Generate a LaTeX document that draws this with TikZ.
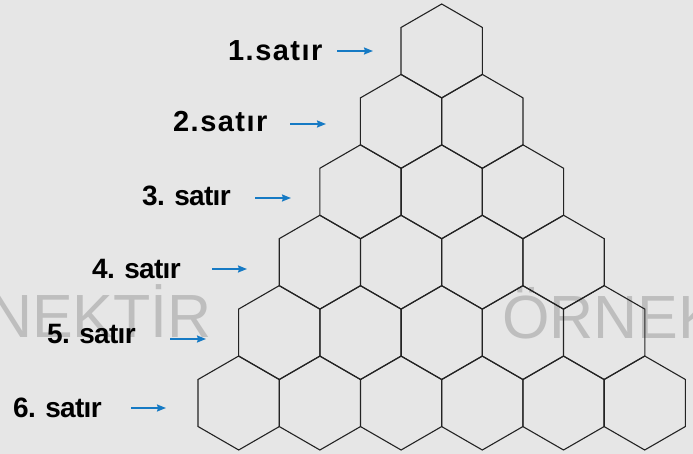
\documentclass[tikz,border=0pt]{standalone}
\usepackage{fontspec}
\setmainfont{Liberation Sans}
\newfontfamily\labbold[LetterSpace=5]{Liberation Sans Bold}
\newfontfamily\labmed[LetterSpace=-2.5]{Liberation Sans Bold}
\newfontfamily\wmfont{Liberation Sans}
\usetikzlibrary{arrows.meta}
\definecolor{bgc}{RGB}{230,230,230}
\definecolor{wmc}{RGB}{190,190,190}
\definecolor{arrc}{RGB}{22,122,196}
\definecolor{hexc}{RGB}{35,35,35}
\tikzset{
  hex/.style={draw=hexc, line width=1.1pt, line join=miter},
  labA/.style={anchor=base west, inner sep=0pt, font=\labbold\fontsize{29}{30}\selectfont},
  labB/.style={anchor=base west, inner sep=0pt, font=\labmed\fontsize{28}{30}\selectfont},
  wm/.style={inner sep=0pt, text=wmc, font=\wmfont\fontsize{61}{62}\selectfont},
  arr/.style={draw=arrc, line width=1.6pt, -{Stealth[length=9pt,width=7pt,inset=1pt]}}
}
\begin{document}
\begin{tikzpicture}[x=1pt,y=-1pt]
\useasboundingbox (0,0) rectangle (693,454);
\fill[bgc] (0,0) rectangle (693,454);
% watermark
\node[wm, anchor=base east] (wm1) at (212,337) {NEKTİR};
\node[wm, anchor=base west] (wm2) at (502,338) {ÖRNEK};
% hexagons
\foreach \r in {1,...,6}{
  \foreach \k in {1,...,\r}{
    \pgfmathsetmacro\cx{441.7+(2*\k-\r-1)*40.6}
    \pgfmathsetmacro\cy{51+(\r-1)*70.4}
    \coordinate (h-\r-\k) at (\cx,\cy);
    \draw[hex] (h-\r-\k) +(90:47) -- +(30:47) -- +(-30:47) -- +(-90:47) -- +(-150:47) -- +(150:47) -- cycle;
  }
}
% labels
\node[labA] (l1) at (228,61) {1.satır};
\node[labA] (l2) at (173,132) {2.satır};
\node[labB] (l3) at (142,206) {3. satır};
\node[labB] (l4) at (92,279) {4. satır};
\node[labB] (l5) at (47,343) {5. satır};
\node[labB] (l6) at (13,417) {6. satır};
% arrows
\coordinate (a1s) at (337,51);  \coordinate (a1e) at (373,51);
\coordinate (a2s) at (290,124); \coordinate (a2e) at (326,124);
\coordinate (a3s) at (255,198); \coordinate (a3e) at (291,198);
\coordinate (a4s) at (212,269); \coordinate (a4e) at (247,269);
\coordinate (a5s) at (170,339); \coordinate (a5e) at (206,339);
\coordinate (a6s) at (131,408); \coordinate (a6e) at (166,408);
\foreach \i in {1,...,6}{ \draw[arr] (a\i s) -- (a\i e); }
\end{tikzpicture}
\end{document}
